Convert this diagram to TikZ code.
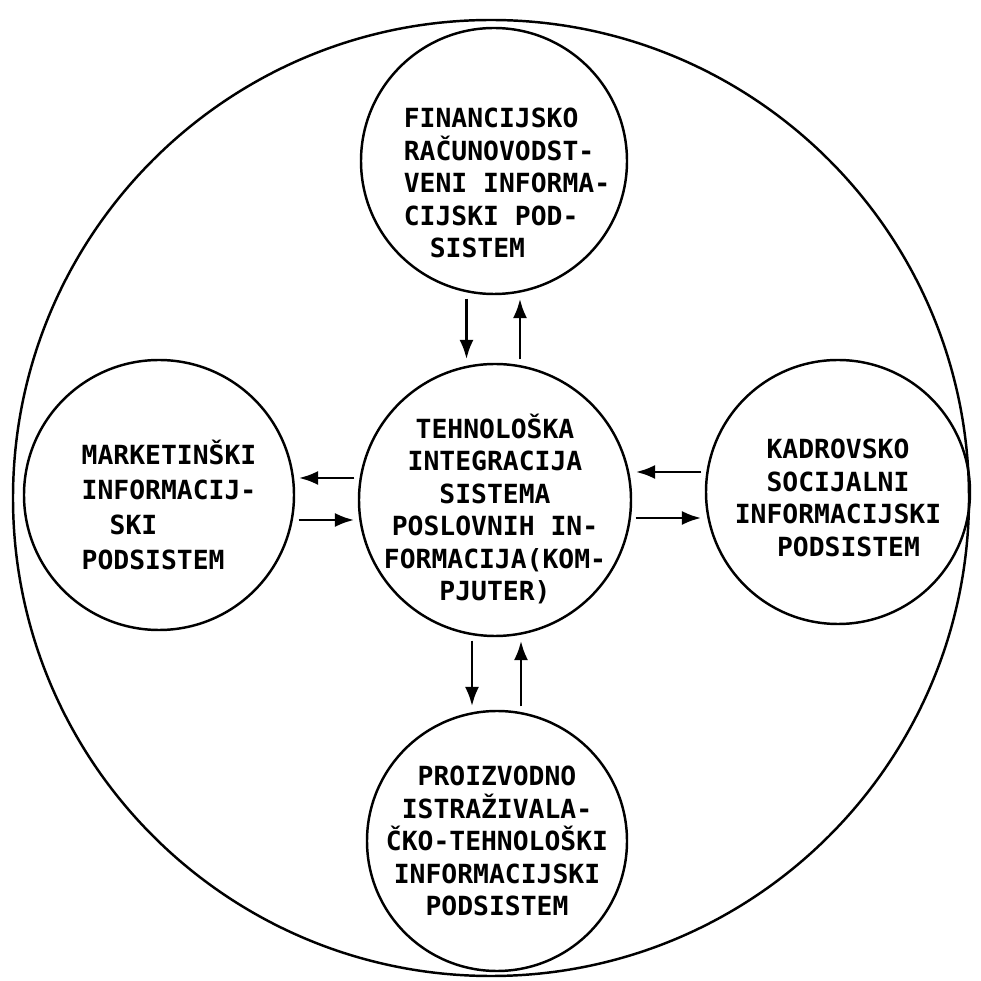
\documentclass[tikz,border=0pt]{standalone}
\usepackage{fontspec}
\setmonofont{DejaVu Sans Mono}
\usetikzlibrary{arrows.meta}

\tikzset{
  subsys/.style={draw, circle, line width=1.4pt, inner sep=0pt},
  subtext/.style={font=\ttfamily\bfseries\fontsize{15}{18.5}\selectfont, inner sep=0pt},
  flow/.style={line width=1.7pt, -{Latex[length=11pt,width=8pt]}, shorten <=2pt, shorten >=2pt}
}

\begin{document}
\begin{tikzpicture}[x=1cm,y=1cm]
  \useasboundingbox (0,0) rectangle (19.62,19.62);
  % outer boundary
  \draw[line width=1.4pt] (9.82,9.66) circle (9.56);
  % subsystems
  \node[subsys, minimum size=5.44cm] (teh) at (9.90,9.62) {};
  \node[subsys, minimum size=5.32cm] (fin) at (9.88,16.40) {};
  \node[subsys, minimum size=5.40cm] (mkt) at (3.18,9.72) {};
  \node[subsys, minimum size=5.28cm] (kad) at (16.76,9.78) {};
  \node[subsys, minimum size=5.20cm] (pro) at (9.94,2.80) {};
  % texts
  \node[subtext, align=center] (tehtext) at ([yshift=-0.18cm]teh)
    {TEHNOLOŠKA\\INTEGRACIJA\\SISTEMA\\POSLOVNIH IN-\\FORMACIJA(KOM-\\PJUTER)};
  \node[subtext, align=left] (fintext) at ([xshift=0.26cm,yshift=-0.44cm]fin)
    {FINANCIJSKO\\RAČUNOVODST-\\VENI INFORMA-\\CIJSKI POD-\\\hspace*{0.52cm}SISTEM};
  \node[subtext, align=left, font=\ttfamily\bfseries\fontsize{15}{20}\selectfont] (mkttext) at ([xshift=0.2cm,yshift=-0.2cm]mkt)
    {MARKETINŠKI\\INFORMACIJ-\\\hspace*{0.56cm}SKI\\PODSISTEM};
  \node[subtext, align=center] (kadtext) at ([yshift=-0.12cm]kad)
    {KADROVSKO\\SOCIJALNI\\INFORMACIJSKI\\\hspace*{0.42cm}PODSISTEM};
  \node[subtext, align=center] (protext) at (pro)
    {PROIZVODNO\\ISTRAŽIVALA-\\ČKO-TEHNOLOŠKI\\INFORMACIJSKI\\PODSISTEM};
  % flows
  \draw[flow] ([xshift=-0.55cm]fin.south) -- ([xshift=-0.55cm]fin.south |- teh.north);
  \draw[flow] ([xshift=0.50cm]teh.north) -- ([xshift=0.50cm]teh.north |- fin.south);
  \draw[flow] ([yshift=0.44cm]teh.west) -- ([yshift=0.44cm]teh.west -| mkt.east);
  \draw[flow] ([yshift=-0.40cm]teh.west -| mkt.east) -- ([yshift=-0.40cm]teh.west);
  \draw[flow] ([yshift=0.56cm]teh.east -| kad.west) -- ([yshift=0.56cm]teh.east);
  \draw[flow] ([yshift=-0.36cm]teh.east) -- ([yshift=-0.36cm]teh.east -| kad.west);
  \draw[flow] ([xshift=-0.46cm]teh.south) -- ([xshift=-0.46cm]teh.south |- pro.north);
  \draw[flow] ([xshift=0.48cm]pro.north) -- ([xshift=0.48cm]pro.north |- teh.south);
\end{tikzpicture}
\end{document}
